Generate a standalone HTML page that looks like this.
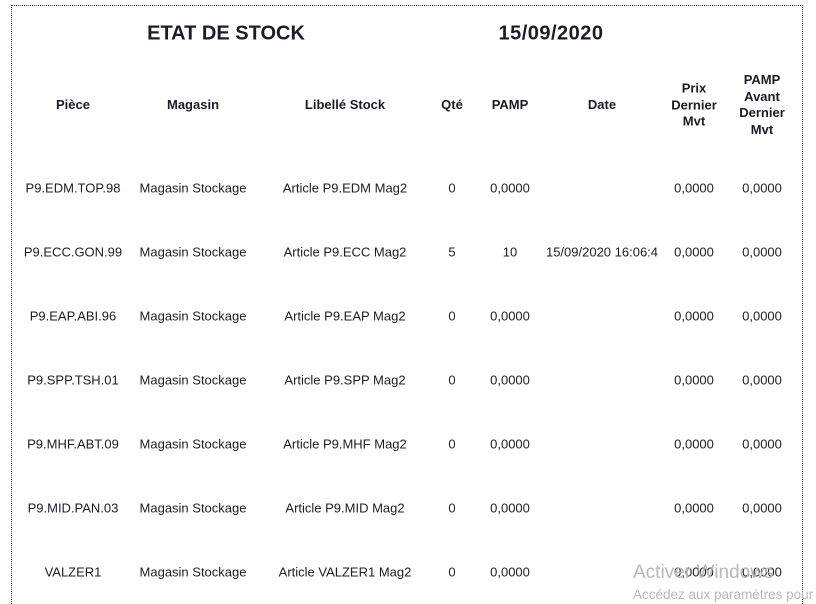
<!DOCTYPE html>
<html><head><meta charset="utf-8">
<style>
html,body{margin:0;padding:0;background:#fff;width:816px;height:604px;overflow:hidden;}
body{position:relative;font-family:"Liberation Sans",sans-serif;color:#1c1c28;}
#frame{position:absolute;left:11px;top:5px;width:792px;height:599px;border:1px dotted #333;border-bottom:none;box-sizing:border-box;}
.t{position:absolute;white-space:nowrap;transform:translate(-50%,-50%);font-size:13px;}
.h{font-weight:bold;font-size:13px;text-align:center;line-height:16.5px;}
.title{font-weight:bold;font-size:20px;}
.wm{position:absolute;color:#b8b8b8;font-size:18px;white-space:nowrap;}
</style></head>
<body>
<div id="frame"></div>
<div class="t title" style="left:226px;top:34px">ETAT DE STOCK</div>
<div class="t title" style="left:551px;top:34px;letter-spacing:0.5px">15/09/2020</div>
<div id="wm1" class="wm" style="left:633px;top:562px;font-size:19px">Activer Windows</div>
<div class="wm" style="left:633px;top:587px;font-size:13.5px">Accédez aux paramètres pour</div>
<script>
const headers=["Pièce","Magasin","Libellé Stock","Qté","PAMP","Date","Prix<br>Dernier<br>Mvt","PAMP<br>Avant<br>Dernier<br>Mvt"];
const pieces=["P9.EDM.TOP.98","P9.ECC.GON.99","P9.EAP.ABI.96","P9.SPP.TSH.01","P9.MHF.ABT.09","P9.MID.PAN.03","VALZER1"];
const magasins=["Magasin Stockage","Magasin Stockage","Magasin Stockage","Magasin Stockage","Magasin Stockage","Magasin Stockage","Magasin Stockage"];
const libelles=["Article P9.EDM Mag2","Article P9.ECC Mag2","Article P9.EAP Mag2","Article P9.SPP Mag2","Article P9.MHF Mag2","Article P9.MID Mag2","Article VALZER1 Mag2"];
const qtes=["0","5","0","0","0","0","0"];
const pamps=["0,0000","10","0,0000","0,0000","0,0000","0,0000","0,0000"];
const dates=["","15/09/2020 16:06:4","","","","",""];
const prix=["0,0000","0,0000","0,0000","0,0000","0,0000","0,0000","0,0000"];
const pampAvant=["0,0000","0,0000","0,0000","0,0000","0,0000","0,0000","0,0000"];
const colX=[73,193,345,452,510,602,694,762];
const cols=[pieces,magasins,libelles,qtes,pamps,dates,prix,pampAvant];
const colNames=["piece","magasin","libelle","qte","pamp","date","prix-dernier-mvt","pamp-avant-dernier-mvt"];
const wm=document.getElementById('wm1');
headers.forEach((h,i)=>{
  const d=document.createElement('div');
  d.className='t h';
  d.innerHTML=h;
  d.style.left=colX[i]+'px';d.style.top='105px';
  
  
  document.body.insertBefore(d,wm);
});
pieces.forEach((p,r)=>{
  const y=188+r*64;
  cols.forEach((c,i)=>{
    if(!c[r])return;
    const d=document.createElement('div');
    d.className='t';
    d.textContent=c[r];
    d.style.left=colX[i]+'px';d.style.top=y+'px';
    
    
    document.body.insertBefore(d,wm);
  });
});
</script>
</body></html>
